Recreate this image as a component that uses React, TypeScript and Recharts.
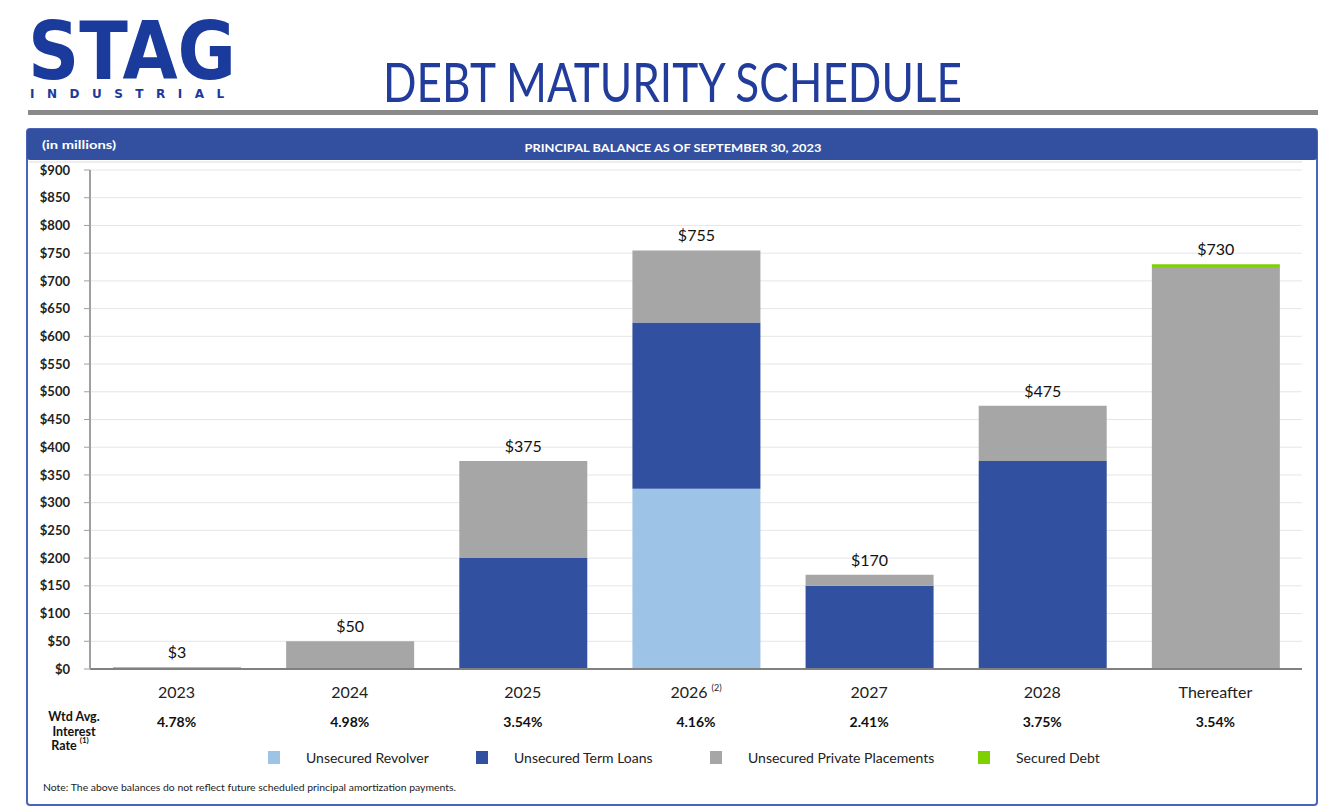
import React from "react";
import {
  BarChart,
  Bar,
  XAxis,
  YAxis,
  CartesianGrid,
  LabelList,
} from "recharts";

// values in $ millions
const periods = ["2023", "2024", "2025", "2026", "2027", "2028", "Thereafter"];
const revolver = [0, 0, 0, 325, 0, 0, 0];
const termLoans = [0, 0, 200, 300, 150, 375, 0];
const privatePlacements = [0, 50, 175, 130, 20, 100, 725];
const securedDebt = [3, 0, 0, 0, 0, 0, 5];
const totals = [3, 50, 375, 755, 170, 475, 730];
const rates = ["4.78%", "4.98%", "3.54%", "4.16%", "2.41%", "3.75%", "3.54%"];
const footnotes = ["", "", "", "(2)", "", "", ""];
const yTicks = [0, 50, 100, 150, 200, 250, 300, 350, 400, 450, 500, 550, 600, 650, 700, 750, 800, 850, 900];

const series = [
  { key: "revolver", name: "Unsecured Revolver", color: "#9dc3e6", values: revolver },
  { key: "termLoans", name: "Unsecured Term Loans", color: "#31509f", values: termLoans },
  { key: "privatePlacements", name: "Unsecured Private Placements", color: "#a6a6a6", values: privatePlacements },
  { key: "securedDebt", name: "Secured Debt", color: "#7ed000", values: securedDebt },
];

const data = periods.map((p, i) => ({
  period: p,
  revolver: revolver[i],
  termLoans: termLoans[i],
  privatePlacements: privatePlacements[i],
  securedDebt: securedDebt[i],
  total: totals[i],
}));

// which series is the top visible segment of each stack (gets the total label)
const topSeries = periods.map((_, i) => {
  let top = 0;
  series.forEach((s, si) => {
    if (s.values[i] > 0) top = si;
  });
  return top;
});

const FONT = "Lato, 'Open Sans', sans-serif";
const BLUE = "#3350a0";

const PeriodTick = ({ x, y, payload }: any) => {
  const i = payload.index;
  return (
    <g>
      <text x={x} y={y + 21} textAnchor="middle" fontSize={16} fill="#222" fontFamily={FONT}>
        {payload.value}
        {footnotes[i] && (
          <tspan fontSize={9} dx={4} dy={-7}>
            {footnotes[i]}
          </tspan>
        )}
      </text>
      <text x={x} y={y + 50} textAnchor="middle" fontSize={14} fontWeight={700} fill="#111" fontFamily={FONT}>
        {rates[i]}
      </text>
    </g>
  );
};

// zero-height segments are skipped, so find the column from the total itself
const makeTotalLabel = (si: number) => (props: any) => {
  const { x, y, width, value } = props;
  const col = totals.indexOf(Number(value));
  if (col < 0 || topSeries[col] !== si) return null;
  return (
    <text x={x + width / 2} y={y - 9} textAnchor="middle" fontSize={16} fill="#111" fontFamily={FONT}>
      {`$${totals[col]}`}
    </text>
  );
};

const legendX = [268, 476, 710, 978];

export default function App() {
  return (
    <div style={{ position: "absolute", left: 0, top: 0, width: 1327, height: 812, background: "#fff", fontFamily: FONT }}>
      <svg width={1327} height={812} style={{ position: "absolute", left: 0, top: 0 }}>
        {/* logo: one text element, two lines */}
        <text fill="#1a3a9c" fontFamily="'DejaVu Sans', sans-serif" fontWeight={900}>
          <tspan x={28} y={79} fontSize={80} textLength={208} lengthAdjust="spacingAndGlyphs">STAG</tspan>
          <tspan x={30} y={98} fontSize={12} letterSpacing={12.5}>INDUSTRIAL</tspan>
        </text>
        <text x={383} y={102} fontSize={55} fill="#213c9a" fontFamily={FONT} textLength={579} lengthAdjust="spacingAndGlyphs">
          DEBT MATURITY SCHEDULE
        </text>
        <rect x={28} y={110} width={1290} height={5} fill="#8a8a8a" />

        {/* frame */}
        <rect x={27} y={129} width={1290} height={676} fill="#fff" stroke="#4a64b8" strokeWidth={2} rx={3} />
        <rect x={27} y={129} width={1290} height={31} fill={BLUE} rx={3} />
        <text x={42} y={149} fontSize={12} fontWeight={700} fill="#fff" textLength={74} lengthAdjust="spacingAndGlyphs">
          (in millions)
        </text>
        <text x={673} y={152} fontSize={12} fontWeight={700} fill="#fff" textAnchor="middle" textLength={297} lengthAdjust="spacingAndGlyphs">
          PRINCIPAL BALANCE AS OF SEPTEMBER 30, 2023
        </text>
        <line x1={29} x2={1302} y1={162} y2={162} stroke="#eeeeee" strokeWidth={2} />

        {/* row label */}
        <text fontSize={12.5} fontWeight={700} fill="#111" textAnchor="middle">
          <tspan x={74} y={721}>Wtd Avg.</tspan>
          <tspan x={74} y={735.5}>Interest</tspan>
          <tspan x={70} y={750}>Rate</tspan>
          <tspan fontSize={8} dx={3} dy={-7}>(1)</tspan>
        </text>

        {/* legend */}
        {series.map((s, i) => (
          <g key={s.key}>
            <rect x={legendX[i]} y={751} width={12} height={13} fill={s.color} />
            <text x={legendX[i] + 38} y={763} fontSize={14} fill="#222">
              {s.name}
            </text>
          </g>
        ))}

        <text x={43} y={791} fontSize={10} fill="#222" textLength={413} lengthAdjust="spacingAndGlyphs">
          Note: The above balances do not reflect future scheduled principal amortization payments.
        </text>
      </svg>

      <div style={{ position: "absolute", left: 0, top: 0 }}>
        <BarChart
          width={1327}
          height={812}
          data={data}
          margin={{ top: 170, right: 25, left: 0, bottom: 83 }}
          barSize={128}
        >
          <CartesianGrid vertical={false} stroke="#e6e6e6" />
          <XAxis
            dataKey="period"
            height={60}
            tick={<PeriodTick />}
            tickLine={false}
            axisLine={{ stroke: "#808080", strokeWidth: 2 }}
            interval={0}
          />
          <YAxis
            width={90}
            domain={[0, 900]}
            ticks={yTicks}
            interval={0}
            tickFormatter={(v: number) => `$${v}`}
            tick={{ fontSize: 13, fontWeight: 700, fill: "#222", fontFamily: FONT }}
            tickMargin={14}
            tickSize={6}
            tickLine={{ stroke: "#a0a0a0" }}
            axisLine={{ stroke: "#a0a0a0", strokeWidth: 2 }}
          />
          {series.map((s, i) => (
            <Bar
              key={s.key}
              dataKey={s.key}
              name={s.name}
              stackId="debt"
              fill={s.color}
              isAnimationActive={false}
            >
              <LabelList dataKey="total" content={makeTotalLabel(i)} />
            </Bar>
          ))}
        </BarChart>
      </div>
    </div>
  );
}
